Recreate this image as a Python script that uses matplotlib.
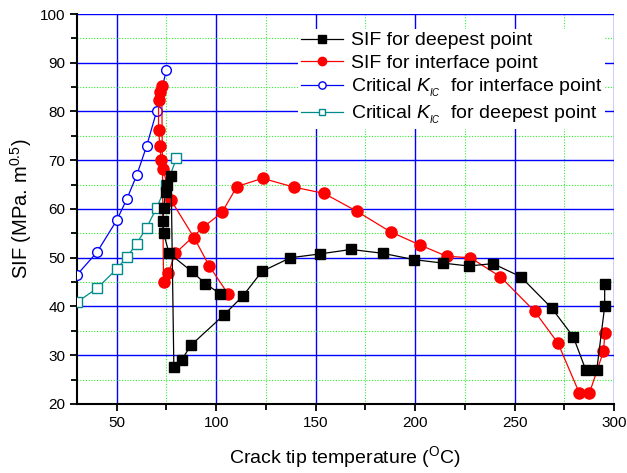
import numpy as np
from matplotlib import pyplot as plt
from matplotlib.ticker import MultipleLocator

#############################################################
# Data
#############################################################
# SIF for deepest point
deepT = [102.0, 94.5, 87.7, 76.3, 73.5, 73.1, 73.6, 74.5, 75.5, 77.3,
         78.7, 82.7, 87.4, 103.7, 113.3, 123.0, 137.3, 152.4, 167.8, 183.9,
         199.6, 214.1, 227.0, 239.1, 253.1, 268.6, 279.5, 285.9, 291.3, 295.3, 295.3]
deepSif = [42.6, 44.7, 47.2, 50.9, 55.1, 57.5, 60.2, 63.4, 65.0, 66.8,
           27.5, 29.1, 32.1, 38.2, 42.1, 47.2, 50.0, 50.8, 51.7, 50.9,
           49.6, 48.9, 48.3, 48.8, 46.1, 39.7, 33.8, 26.9, 26.9, 40.0, 44.6]

# SIF for interface point
intfT = [105.9, 96.5, 88.9, 77.3, 73.2, 72.3, 71.7, 71.0, 71.0, 71.8, 72.6,
         73.5, 76.0, 79.4, 93.6, 102.9, 110.4, 123.3, 138.9, 154.2, 170.8,
         187.7, 202.5, 215.9, 227.8, 242.9, 260.1, 271.8, 282.6, 287.6, 294.7, 295.4]
intfSif = [42.6, 48.3, 54.1, 61.8, 68.3, 70.0, 72.9, 76.3, 82.3, 83.9, 85.2,
           45.0, 46.9, 50.9, 56.3, 59.3, 64.6, 66.3, 64.5, 63.2, 59.5,
           55.3, 52.6, 50.3, 50.0, 46.1, 39.0, 32.5, 22.2, 22.2, 30.8, 34.5]

# Critical K_IC
kicIntfT = [30, 40, 50, 55, 60, 65, 70, 75]
kicIntf = [46.5, 51.1, 57.7, 62.0, 66.9, 72.9, 80.0, 88.6]
kicDeepT = [30, 40, 50, 55, 60, 65, 70, 75, 80]
kicDeep = [40.9, 43.7, 47.7, 50.1, 52.9, 56.2, 60.2, 64.9, 70.4]

#############################################################
# Plot
#############################################################
plt.rcParams['font.family'] = ['Liberation Sans', 'DejaVu Sans']
plt.rcParams['mathtext.fontset'] = 'custom'
plt.rcParams['mathtext.rm'] = 'Liberation Sans'
plt.rcParams['mathtext.it'] = 'Liberation Sans:italic'

fig = plt.figure(figsize=(6.27, 4.73), dpi=100)
ax = fig.add_axes([0.1228, 0.1459, 0.8565, 0.8245])

ax.plot(deepT, deepSif, "-s", color="black", lw=0.9, ms=7, mfc="black", mec="black",
        label="SIF for deepest point", zorder=5)
ax.plot(intfT, intfSif, "-o", color="red", lw=0.9, ms=8, mfc="red", mec="red",
        label="SIF for interface point", zorder=4)
ax.plot(kicIntfT, kicIntf, "-o", color="blue", lw=0.9, ms=7, mfc="white", mec="blue",
        label=r"Critical $K_{_{IC}}$  for interface point", zorder=3)
ax.plot(kicDeepT, kicDeep, "-s", color="#008b8b", lw=0.9, ms=6.5, mfc="white", mec="#008b8b",
        label=r"Critical $K_{_{IC}}$  for deepest point", zorder=3)

ax.set_xlim(30, 300)
ax.set_ylim(20, 100)
ax.xaxis.set_major_locator(MultipleLocator(50))
ax.xaxis.set_minor_locator(MultipleLocator(25))
ax.yaxis.set_major_locator(MultipleLocator(10))
ax.yaxis.set_minor_locator(MultipleLocator(5))

ax.grid(which="major", color="blue", lw=1.0, ls="-", zorder=0)
ax.grid(which="minor", color="#33ee33", lw=0.8, ls=(0, (1, 1.5)), zorder=0)
ax.set_axisbelow(True)

for s in ["top", "right"]:
    ax.spines[s].set_visible(False)
for s in ["left", "bottom"]:
    ax.spines[s].set_linewidth(1.5)
ax.tick_params(which="major", direction="out", length=5, width=1.3, labelsize=11)
ax.tick_params(which="minor", direction="out", length=4, width=1.3)

ax.set_xlabel(r"Crack tip temperature ($^{\mathrm{O}}$C)", fontsize=14, labelpad=10)
ax.set_ylabel(r"SIF (MPa. m$^{0.5}$)", fontsize=14.5, labelpad=4)

leg = ax.legend(loc="upper left", bbox_to_anchor=(0.412, 0.962), fontsize=14,
                frameon=True, fancybox=False, edgecolor="none", facecolor="white",
                framealpha=1, handlelength=2.15, handletextpad=0.4, borderpad=0.15,
                labelspacing=0.26, markerscale=0.75, borderaxespad=0)
leg.set_zorder(10)

plt.savefig("out.png", dpi=100)
